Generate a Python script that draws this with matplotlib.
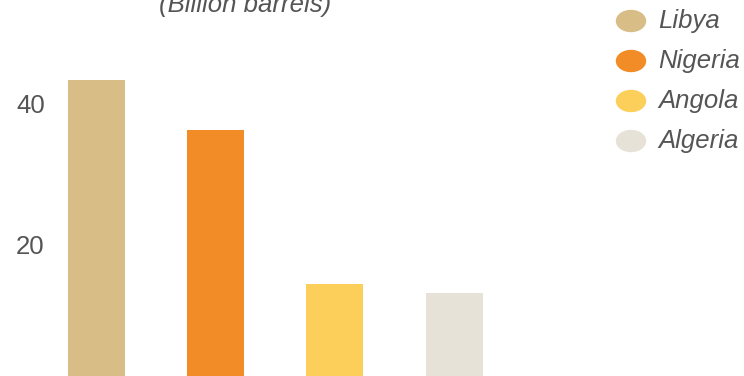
import matplotlib
matplotlib.use("Agg")
import matplotlib.pyplot as plt
from matplotlib.patches import Ellipse

# data
countries = ["Libya", "Nigeria", "Angola", "Algeria"]
reserves = [43.4, 36.3, 14.5, 13.2]
colors = ["#D9BD87", "#F28C26", "#FBCF5A", "#E6E2D7"]
yticks = [20, 40]
title = "(Billion barrels)"

W, H = 744, 376
TXT = "#555555"
plt.rcParams["font.family"] = ["Liberation Sans", "DejaVu Sans"]

fig = plt.figure(figsize=(W / 100, H / 100), dpi=100)
# axes runs a little below the figure so bars look cut at the bottom
ax = fig.add_axes([60 / W, -10 / H, 684 / W, 386 / H])

x = list(range(len(countries)))
ax.bar(x, reserves, width=0.478, color=colors)
ax.set_xlim(-0.306, 5.432)
ax.set_ylim(0, 54.75)

ax.set_yticks(yticks)
ax.set_yticklabels([str(t) for t in yticks])
ax.tick_params(axis="y", length=0, pad=11, labelsize=18.5, labelcolor=TXT)
ax.set_xticks([])
for s in ax.spines.values():
    s.set_visible(False)

fig.text(245 / W, 1 - 12 / H, title, ha="center", va="baseline",
         fontsize=18.5, style="italic", color=TXT)

# legend drawn by hand: ellipse markers + italic labels
for i, (name, c) in enumerate(zip(countries, colors)):
    yc = 1 - (21 + 40 * i) / H
    fig.add_artist(Ellipse((631 / W, yc), 29 / W, 21 / H, color=c,
                           transform=fig.transFigure))
    fig.text(658 / W, yc, name, ha="left", va="center", fontsize=18.5,
             style="italic", color=TXT)

fig.savefig("out.png", dpi=100)
